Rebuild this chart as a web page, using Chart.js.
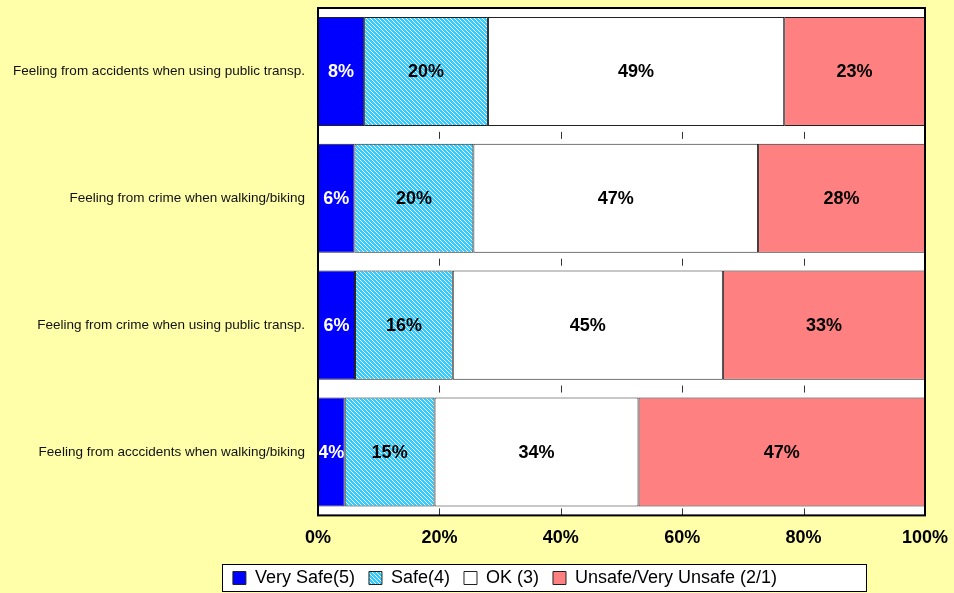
<!DOCTYPE html>
<html>
<head>
<meta charset="utf-8">
<script src="https://cdn.jsdelivr.net/npm/chart.js@4.4.1/dist/chart.umd.min.js"></script>
<style>
  html, body { margin: 0; padding: 0; background: #FFFFAA; }
  #wrap { width: 954px; height: 593px; }
</style>
</head>
<body>
<div id="wrap"><canvas id="myChart" width="954" height="593"></canvas></div>
<script>
var categories = [
  'Feeling from accidents when using public transp.',
  'Feeling from crime when walking/biking',
  'Feeling from crime when using public transp.',
  'Feeling from acccidents when walking/biking'
];
var seriesNames = ['Very Safe(5)', 'Safe(4)', 'OK (3)', 'Unsafe/Very Unsafe (2/1)'];
var verySafe = [7.6, 6.0, 6.1, 4.4];
var safe = [20.4, 19.6, 16.1, 14.8];
var ok = [48.8, 46.9, 44.5, 33.6];
var unsafe = [23.2, 27.5, 33.3, 47.2];
var xTicks = [0, 20, 40, 60, 80, 100];

var legendPad = 14;

// diagonal hatch for the "Safe" series
function hatch() {
  var c = document.createElement('canvas');
  c.width = 4; c.height = 4;
  var g = c.getContext('2d');
  g.fillStyle = '#33CCFF';
  g.fillRect(0, 0, 4, 4);
  g.fillStyle = '#ffffff';
  for (var i = 0; i < 4; i++) g.fillRect(i, i, 1, 1);
  return g.createPattern(c, 'repeat');
}

var ctx = document.getElementById('myChart').getContext('2d');

var frame = {
  id: 'frame',
  afterLayout: function(chart) {
    // move the legend to where the original sits (hit boxes get rebuilt after this)
    var lg = chart.legend;
    var dx = 505 - (lg.left + lg.right) / 2;
    var dy = (569 - legendPad) - lg.top;
    lg.left += dx; lg.right += dx;
    lg.top += dy; lg.bottom += dy;
  },
  beforeDraw: function(chart) {
    var c = chart.ctx;
    c.save();
    c.fillStyle = '#FFFFAA';
    c.fillRect(0, 0, chart.width, chart.height);
    var a = chart.chartArea;
    c.fillStyle = '#ffffff';
    c.fillRect(a.left, a.top, a.right - a.left, a.bottom - a.top);
    // legend box
    var hb = chart.legend.legendHitBoxes;
    if (hb.length) {
      var l = 222, r = 866;
      var t = Math.round(hb[0].top + hb[0].height / 2 - 14), b = t + 27;
      c.fillStyle = '#ffffff';
      c.fillRect(l, t, r - l, b - t);
      c.strokeStyle = '#000';
      c.lineWidth = 1;
      c.strokeRect(l + 0.5, t + 0.5, r - l, b - t);
    }
    c.restore();
  },
  afterDatasetsDraw: function(chart) {
    var c = chart.ctx;
    var a = chart.chartArea;
    var xs = chart.scales.x, ys = chart.scales.y;
    c.save();
    // small tick marks in the gaps between bars
    c.strokeStyle = '#333';
    c.lineWidth = 1;
    var gaps = [];
    for (var i = 0; i < categories.length - 1; i++) gaps.push(ys.getPixelForValue(i + 0.5));
    gaps.push(a.bottom - 4);
    xTicks.slice(1, -1).forEach(function(v) {
      var x = Math.round(xs.getPixelForValue(v)) + 0.5;
      gaps.forEach(function(y) {
        c.beginPath();
        c.moveTo(x, y - 3);
        c.lineTo(x, y + 4);
        c.stroke();
      });
    });
    // value labels
    c.font = 'bold 18px Arial, "Liberation Sans"';
    c.textAlign = 'center';
    c.textBaseline = 'middle';
    chart.data.datasets.forEach(function(ds, di) {
      chart.getDatasetMeta(di).data.forEach(function(bar, j) {
        c.fillStyle = di === 0 ? '#ffffff' : '#000000';
        c.fillText(Math.round(ds.data[j]) + '%', (bar.x + bar.base) / 2, bar.y + 1);
      });
    });
    // plot border
    c.strokeStyle = '#000';
    c.lineWidth = 2;
    c.strokeRect(a.left, a.top, a.right - a.left, a.bottom - a.top);
    c.restore();
  }
};

var myChart = new Chart(ctx, {
  type: 'bar',
  data: {
    labels: categories,
    datasets: [
      { label: seriesNames[0], data: verySafe, backgroundColor: '#0000FF' },
      { label: seriesNames[1], data: safe, backgroundColor: hatch() },
      { label: seriesNames[2], data: ok, backgroundColor: '#ffffff' },
      { label: seriesNames[3], data: unsafe, backgroundColor: '#FF8080' }
    ]
  },
  options: {
    indexAxis: 'y',
    responsive: false,
    animation: false,
    datasets: {
      bar: {
        borderColor: '#222',
        borderWidth: 1,
        borderSkipped: false,
        barPercentage: 0.86,
        categoryPercentage: 1
      }
    },
    layout: { padding: { left: 0, right: 29, top: 8, bottom: -2 } },
    scales: {
      x: {
        stacked: true,
        min: 0,
        max: 100,
        grid: { display: false },
        border: { display: false },
        afterFit: function(scale) { scale.paddingLeft = 0; scale.paddingRight = 0; },
        ticks: {
          stepSize: 20,
          padding: 4,
          color: '#000',
          font: { family: 'Arial, "Liberation Sans"', size: 18, weight: 'bold' },
          callback: function(v) { return v + '%'; }
        }
      },
      y: {
        stacked: true,
        grid: { display: false },
        border: { display: false },
        afterFit: function(scale) { scale.width = 318; scale.paddingTop = 0; scale.paddingBottom = 0; },
        ticks: {
          padding: 5,
          color: '#111',
          font: { family: 'Arial, "Liberation Sans"', size: 13.5 }
        }
      }
    },
    plugins: {
      tooltip: { enabled: false },
      legend: {
        position: 'bottom',
        labels: {
          boxWidth: 13,
          boxHeight: 13,
          padding: legendPad,
          color: '#000',
          font: { family: 'Arial, "Liberation Sans"', size: 18 }
        }
      }
    }
  },
  plugins: [frame]
});
</script>
</body>
</html>
